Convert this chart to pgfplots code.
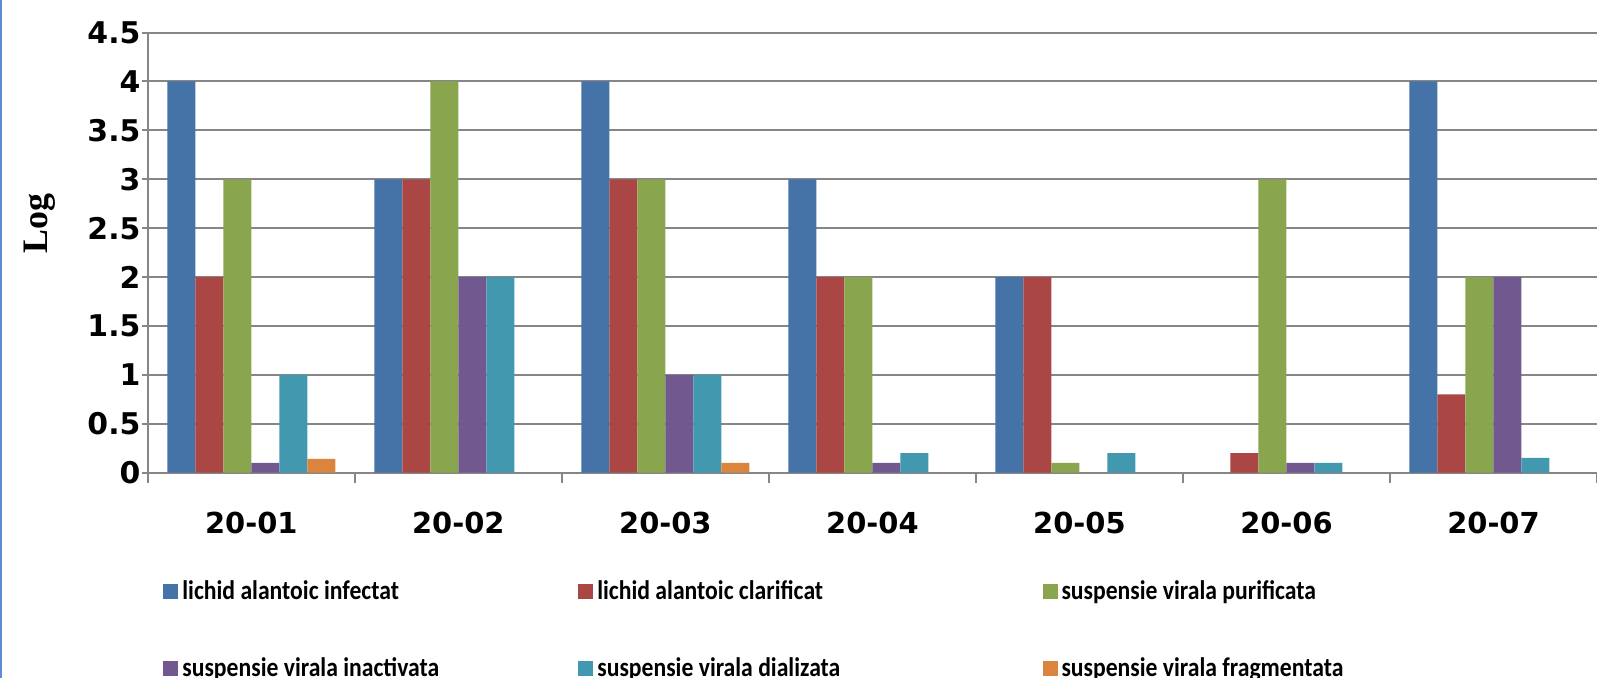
\documentclass[border=0pt]{standalone}
\usepackage{pgfplots}
\pgfplotsset{compat=1.18}
\usepackage{fontspec}
\setmainfont{Carlito}
\newfontfamily\legfont[FakeStretch=0.88]{Carlito}
\newfontfamily\tickfont{DejaVu Sans}
\newfontfamily\serifb{Liberation Serif}
\definecolor{cA}{HTML}{4572A7}
\definecolor{cB}{HTML}{AA4643}
\definecolor{cC}{HTML}{89A54E}
\definecolor{cD}{HTML}{71588F}
\definecolor{cE}{HTML}{4198AF}
\definecolor{cF}{HTML}{DB843D}
\definecolor{axisgray}{HTML}{868686}
\definecolor{frameblue}{HTML}{5B8BD0}
\pgfplotsset{sqleg/.style={legend image code/.code={\fill[##1] (0bp,-3.75bp) rectangle (7.5bp,3.75bp);}}}
\begin{document}
\begin{tikzpicture}
\begin{axis}[
  scale only axis, width=724.6bp, height=220bp,
  ybar=0pt, bar width=14bp,
  xmin=-0.5, xmax=6.5, ymin=0, ymax=4.5,
  xtick={0,1,2,3,4,5,6},
  xticklabels={20-01,20-02,20-03,20-04,20-05,20-06,20-07},
  minor xtick={-0.5,0.5,1.5,2.5,3.5,4.5,5.5,6.5},
  ytick={0,0.5,1,1.5,2,2.5,3,3.5,4,4.5},
  yticklabels={0,0.5,1,1.5,2,2.5,3,3.5,4,4.5},
  /pgf/number format/assume math mode=true,
  axis x line*=bottom, axis y line*=left,
  axis line style={axisgray, line width=1bp},
  tick align=outside, major tick length=3bp, minor tick length=5bp,
  tick style={axisgray, line width=1bp},
  major x tick style={draw=none},
  ymajorgrids, grid style={axisgray, line width=1bp},
  xticklabel style={font=\tickfont\bfseries\fontsize{14.5}{15}\selectfont, yshift=-13bp},
  yticklabel style={font=\tickfont\bfseries\fontsize{15}{15}\selectfont, inner xsep=0.5bp},
  every axis y label/.style={at={(axis description cs:-0.0745,0.567)}, rotate=90, anchor=center},
  ylabel={Log},
  ylabel style={font=\serifb\bfseries\fontsize{18}{18}\selectfont},
  legend columns=3,
  legend style={draw=none, fill=none, inner sep=0pt, at={(0,0)}, anchor=north west, xshift=7.6bp, yshift=-52bp,
    font=\legfont\bfseries\fontsize{13.5}{15}\selectfont, row sep=23.3bp,
    /tikz/every even column/.append style={column sep=0pt}},
  legend cell align=left,
]
\addplot[fill=cA, draw=none, sqleg] coordinates {(0,4) (1,3) (2,4) (3,3) (4,2) (6,4)};
\addlegendentry{\makebox[196bp][l]{lichid alantoic infectat}}
\addplot[fill=cB, draw=none, sqleg] coordinates {(0,2) (1,3) (2,3) (3,2) (4,2) (5,0.2) (6,0.8)};
\addlegendentry{\makebox[220.6bp][l]{lichid alantoic clarificat}}
\addplot[fill=cC, draw=none, sqleg] coordinates {(0,3) (1,4) (2,3) (3,2) (4,0.1) (5,3) (6,2)};
\addlegendentry{suspensie virala purificata}
\addplot[fill=cD, draw=none, sqleg] coordinates {(0,0.1) (1,2) (2,1) (3,0.1) (5,0.1) (6,2)};
\addlegendentry{\makebox[196bp][l]{suspensie virala inactivata}}
\addplot[fill=cE, draw=none, sqleg] coordinates {(0,1) (1,2) (2,1) (3,0.2) (4,0.2) (5,0.1) (6,0.15)};
\addlegendentry{\makebox[220.6bp][l]{suspensie virala dializata}}
\addplot[fill=cF, draw=none, sqleg] coordinates {(0,0.14) (2,0.1)};
\addlegendentry{suspensie virala fragmentata}
\end{axis}
\draw[frameblue, line width=1bp] (-73.3bp,-102.7bp) -- (-73.3bp,236.3bp);
\pgfresetboundingbox
\useasboundingbox (-73.9bp,-102.7bp) rectangle (724.6bp,236.3bp);
\end{tikzpicture}
\end{document}
